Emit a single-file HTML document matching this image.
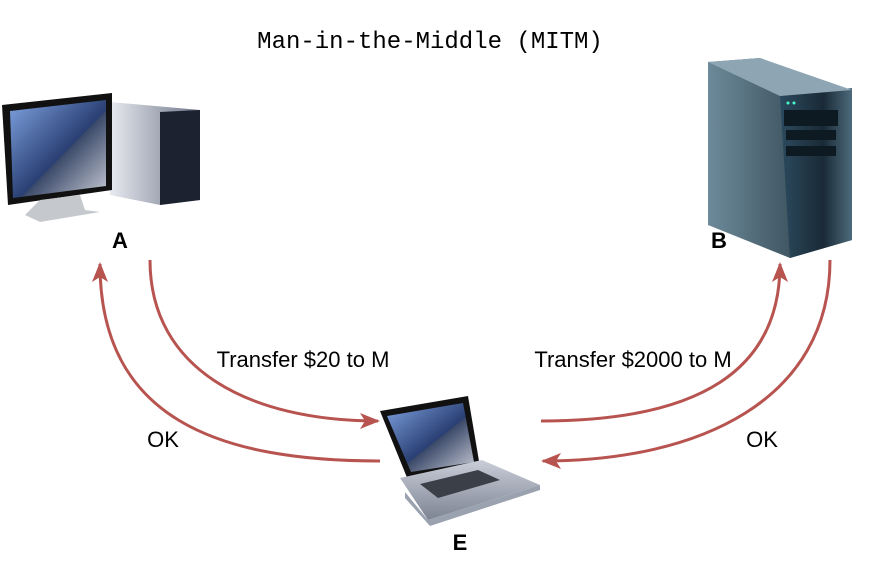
<!DOCTYPE html>
<html><head><meta charset="utf-8"><style>
html,body{margin:0;padding:0;background:#fff;width:882px;height:562px;overflow:hidden}
</style></head><body>
<svg width="882" height="562" viewBox="0 0 882 562" xmlns="http://www.w3.org/2000/svg">
<defs>
<linearGradient id="scr" x1="0" y1="0" x2="1" y2="1"><stop offset="0" stop-color="#7ea2e0"/><stop offset="0.55" stop-color="#2a3f73"/><stop offset="0.56" stop-color="#3c4a6a"/><stop offset="1" stop-color="#c8ccd6"/></linearGradient>
<linearGradient id="case" x1="0" y1="0" x2="1" y2="0"><stop offset="0" stop-color="#e8eaf0"/><stop offset="1" stop-color="#6d7488"/></linearGradient>
<linearGradient id="srv" x1="0" y1="0" x2="1" y2="0"><stop offset="0" stop-color="#2b4a5e"/><stop offset="0.6" stop-color="#1a2a36"/><stop offset="1" stop-color="#4d6a7c"/></linearGradient>
<linearGradient id="srvside" x1="0" y1="0" x2="1" y2="0"><stop offset="0" stop-color="#6d8a9a"/><stop offset="1" stop-color="#1e2f3a"/></linearGradient>
<linearGradient id="kb" x1="0" y1="0" x2="0" y2="1"><stop offset="0" stop-color="#c9ced8"/><stop offset="1" stop-color="#7d8493"/></linearGradient>
<marker id="ah" markerWidth="20" markerHeight="16" refX="18" refY="8" orient="auto" markerUnits="userSpaceOnUse" viewBox="0 0 20 16"><path d="M0,0 L20,8 L0,16 L5,8 Z" fill="#b85450"/></marker>
</defs>
<text x="430" y="48" text-anchor="middle" font-family="Liberation Mono, monospace" font-size="24" fill="#000">Man-in-the-Middle (MITM)</text>

<!-- PC -->
<polygon points="110,102 200,110 200,200 160,205 110,195" fill="url(#case)"/>
<polygon points="160,112 200,110 200,200 160,205" fill="#1c2230"/>
<polygon points="2,105 112,93 112,190 8,205" fill="#111"/>
<polygon points="10,111 106,100 106,186 13,198" fill="url(#scr)"/>
<polygon points="40,200 80,195 85,210 100,212 40,222 25,215" fill="#c5c8cc"/>

<!-- Server -->
<polygon points="708,62 760,58 852,92 852,240 790,258 708,225" fill="url(#srvside)"/>
<polygon points="780,96 852,88 852,240 790,258" fill="url(#srv)"/>
<polygon points="708,62 760,58 852,90 780,96" fill="#8ea6b3"/>
<rect x="784" y="110" width="54" height="16" fill="#0e1a22"/>
<rect x="786" y="130" width="50" height="10" fill="#0e1a22"/>
<rect x="786" y="146" width="50" height="10" fill="#0e1a22"/>
<circle cx="788" cy="103" r="1.5" fill="#4fc"/><circle cx="794" cy="103" r="1.5" fill="#4fc"/>

<!-- Laptop -->
<polygon points="380,411 468,396 480,467 408,480" fill="#111"/>
<polygon points="387,416 463,403 474,462 411,472" fill="url(#scr)"/>
<polygon points="400,478 482,460 540,485 428,520" fill="url(#kb)"/>
<polygon points="420,484 478,470 500,480 438,498" fill="#3a3f48"/>
<polygon points="405,492 428,520 540,485 540,490 430,526 405,498" fill="#9aa2b0"/>

<text x="120" y="248" text-anchor="middle" font-family="Liberation Sans, sans-serif" font-size="22" font-weight="bold">A</text>
<text x="719" y="248" text-anchor="middle" font-family="Liberation Sans, sans-serif" font-size="22" font-weight="bold">B</text>
<text x="460" y="550" text-anchor="middle" font-family="Liberation Sans, sans-serif" font-size="22" font-weight="bold">E</text>

<g fill="none" stroke="#b85450" stroke-width="3">
<path d="M150,260 C150,370 250,421 378,421" marker-end="url(#ah)"/>
<path d="M380,461 C220,461 100,420 100,264" marker-end="url(#ah)"/>
<path d="M541,421 C700,421 780,370 780,264" marker-end="url(#ah)"/>
<path d="M830,260 C830,400 700,461 543,461" marker-end="url(#ah)"/>
</g>
<g font-family="Liberation Sans, sans-serif" font-size="22" fill="#000">
<text x="303" y="367" text-anchor="middle">Transfer $20 to M</text>
<text x="633" y="367" text-anchor="middle">Transfer $2000 to M</text>
<text x="163" y="447" text-anchor="middle">OK</text>
<text x="762" y="447" text-anchor="middle">OK</text>
</g>
</svg>
</body></html>
